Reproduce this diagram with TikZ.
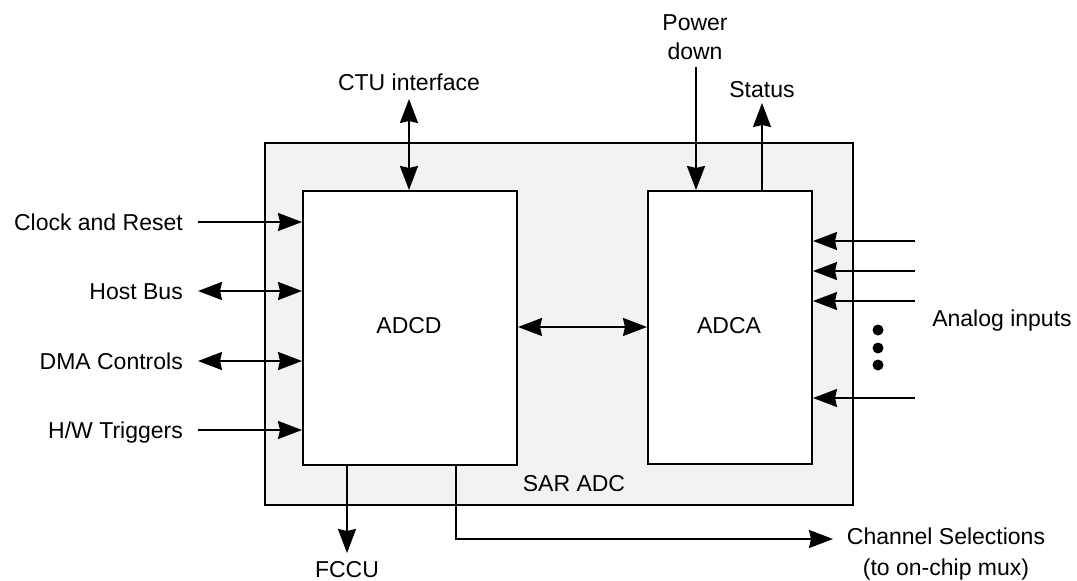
\documentclass[tikz,border=0pt]{standalone}
\usepackage{fontspec}
\setmainfont{Liberation Sans}
\usetikzlibrary{arrows.meta}
\definecolor{sarfill}{HTML}{F2F2F2}
\begin{document}
\begin{tikzpicture}[x=1pt,y=-1pt,
  every node/.style={font=\fontsize{23}{29}\selectfont},
  blk/.style={draw=black, line width=2pt, inner sep=0pt, anchor=north west},
  lbl/.style={inner sep=0pt, anchor=base},
  mlbl/.style={inner sep=0pt, align=center},
  tip/.tip={Stealth[length=24pt,width=18pt,inset=2pt]},
  arr/.style={line width=2pt, -tip},
  darr/.style={line width=2pt, tip-tip},
  dot/.style={circle, fill=black, inner sep=0pt, minimum size=11pt}
]
\useasboundingbox (0,0) rectangle (1077,581);
\node[blk, fill=sarfill, minimum width=588pt, minimum height=362pt] (sar) at (264,142) {};
\node[blk, fill=white, minimum width=214pt, minimum height=274pt] (adcd) at (302,190) {};
\node[blk, fill=white, minimum width=164pt, minimum height=273pt] (adca) at (647,190) {};
\node[lbl] (adcdt) at (409,333) {ADCD};
\node[lbl] (adcat) at (729,333) {ADCA};
\node[lbl] (sart) at (574,491) {SAR ADC};

% left side
\node[lbl, anchor=base east] (clk) at (183,230) {Clock and Reset};
\node[lbl, anchor=base east] (host) at (183,299) {Host Bus};
\node[lbl, anchor=base east] (dma) at (183,369) {DMA Controls};
\node[lbl, anchor=base east] (hw) at (183,438) {H/W Triggers};
\coordinate (clkS) at (198,222);
\coordinate (hostS) at (198,291);
\coordinate (dmaS) at (198,361);
\coordinate (hwS) at (198,430);
\draw[arr] (clkS) -- (adcd.west |- clkS);
\draw[darr] (hostS) -- (adcd.west |- hostS);
\draw[darr] (dmaS) -- (adcd.west |- dmaS);
\draw[arr] (hwS) -- (adcd.west |- hwS);

% top
\node[lbl] (ctu) at (409,90) {CTU interface};
\coordinate (ctuS) at (409,99);
\draw[darr] (ctuS) -- (adcd.north -| ctuS);
\node[mlbl] (pwr) at (695,37) {Power\\down};
\coordinate (pwrS) at (696,67);
\draw[arr] (pwrS) -- (adca.north -| pwrS);
\node[lbl] (stat) at (762,97) {Status};
\coordinate (statE) at (762,103);
\draw[line width=1.6pt, -tip] (adca.north -| statE) -- (statE);

% middle
\draw[darr] (adcd.east |- 0,327) -- (adca.west |- 0,327);

% right side
\node[lbl] (ana) at (1002,326) {Analog inputs};
\foreach \i/\y in {1/241,2/271,3/301,4/398}{
  \coordinate (a\i) at (915,\y);
  \draw[line width=1.6pt, -tip] (a\i) -- (adca.east |- a\i);
}
\node[dot] (d1) at (878,330) {};
\node[dot] (d2) at (878,348) {};
\node[dot] (d3) at (878,365) {};

% bottom
\node[lbl] (fccu) at (347,577) {FCCU};
\coordinate (fccuE) at (347,553);
\draw[arr] (adcd.south -| fccuE) -- (fccuE);
\node[mlbl, font=\fontsize{23}{31}\selectfont] (chan) at (946,554) {Channel Selections\\(to on-chip mux)};
\coordinate (chanE) at (833,539);
\coordinate (chanS) at (456,464);
\draw[arr] (adcd.south -| chanS) |- (chanE);
\end{tikzpicture}
\end{document}
